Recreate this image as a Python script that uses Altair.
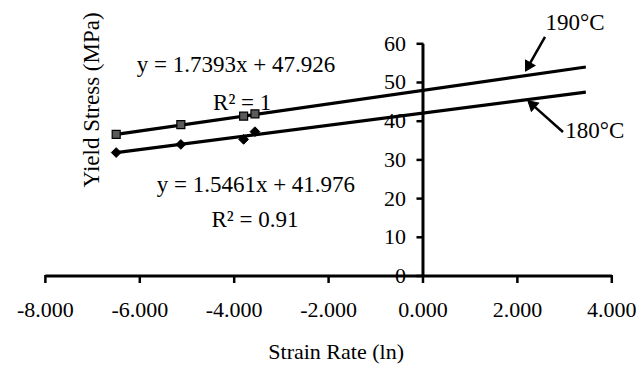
import math
import altair as alt
import pandas as pd

# ---------------- data ----------------
strain_rate = [-6.50, -5.13, -3.80, -3.56]
stress_190 = [36.6, 39.1, 41.3, 41.9]
stress_180 = [31.9, 34.0, 35.3, 37.3]

trend_x = [-6.50, 3.45]
trend_190 = [36.6, 54.0]
trend_180 = [31.9, 47.5]

x_ticks = [-8, -6, -4, -2, 0, 2, 4]
x_tick_labels = ["-8.000", "-6.000", "-4.000", "-2.000", "0.000", "2.000", "4.000"]
y_ticks = [0, 10, 20, 30, 40, 50, 60]
y_tick_labels = ["0", "10", "20", "30", "40", "50", "60"]

ann_text = ["y = 1.7393x + 47.926", "R² = 1", "y = 1.5461x + 41.976", "R² = 0.91",
            "190°C", "180°C"]
ann_x = [-3.96, -3.83, -3.54, -3.56, 3.22, 3.64]
ann_y = [52.6, 42.9, 21.7, 12.7, 63.6, 35.7]

arrow_tail_x = [2.585, 2.966]
arrow_tail_y = [61.8, 37.2]
arrow_tip_x = [2.16, 2.203]
arrow_tip_y = [52.7, 45.5]

x_title = "Strain Rate (ln)"
y_title = "Yield Stress (MPa)"

# ---------------- chart setup ----------------
W, H = 628, 356
X_DOMAIN = [-8.792, 4.513]
Y_DOMAIN = [-22.74, 69.25]
PX_X = W / (X_DOMAIN[1] - X_DOMAIN[0])
PX_Y = H / (Y_DOMAIN[1] - Y_DOMAIN[0])
FONT = "Liberation Serif"
FS = 23

xs = alt.Scale(domain=X_DOMAIN, nice=False, zero=False)
ys = alt.Scale(domain=Y_DOMAIN, nice=False, zero=False)


def X(f="x"):
    return alt.X(f"{f}:Q", scale=xs, axis=None)


def Y(f="y"):
    return alt.Y(f"{f}:Q", scale=ys, axis=None)


# axes
x_axis = alt.Chart(pd.DataFrame({"x": [x_ticks[0]], "x2": [x_ticks[-1]], "y": [0]})).mark_rule(
    color="black", strokeWidth=3).encode(x=X(), x2="x2:Q", y=Y())
y_axis = alt.Chart(pd.DataFrame({"x": [0], "y": [y_ticks[0]], "y2": [y_ticks[-1]]})).mark_rule(
    color="black", strokeWidth=3).encode(x=X(), y=Y(), y2="y2:Q")

xt_df = pd.DataFrame({"x": x_ticks, "y": [0] * len(x_ticks), "label": x_tick_labels})
yt_df = pd.DataFrame({"x": [0] * len(y_ticks), "y": y_ticks, "label": y_tick_labels})

x_tick_marks = alt.Chart(xt_df).mark_tick(
    orient="vertical", size=8, thickness=2.5, color="black", yOffset=3, opacity=1
).encode(x=X(), y=Y())
y_tick_marks = alt.Chart(yt_df).mark_tick(
    orient="horizontal", size=7, thickness=2.5, color="black", xOffset=-3, opacity=1
).encode(x=X(), y=Y())

x_tick_text = alt.Chart(xt_df).mark_text(
    font=FONT, fontSize=FS - 1, baseline="alphabetic", align="center", dy=41, color="black"
).encode(x=X(), y=Y(), text="label:N")
y_tick_text = alt.Chart(yt_df).mark_text(
    font=FONT, fontSize=FS - 1, baseline="middle", align="right", dx=-17, color="black"
).encode(x=X(), y=Y(), text="label:N")

# trend lines
trend_df = pd.DataFrame({
    "x": trend_x + trend_x,
    "y": trend_190 + trend_180,
    "series": ["190"] * 2 + ["180"] * 2,
})
trend = alt.Chart(trend_df).mark_line(color="black", strokeWidth=3.2).encode(
    x=X(), y=Y(), detail="series:N")

# data points
sq = alt.Chart(pd.DataFrame({"x": strain_rate, "y": stress_190})).mark_point(
    shape="square", filled=True, fill="#5a5a5a", stroke="black", strokeWidth=1.2,
    size=64, opacity=1).encode(x=X(), y=Y())
dm = alt.Chart(pd.DataFrame({"x": strain_rate, "y": stress_180})).mark_point(
    shape="diamond", filled=True, fill="black", stroke="black", strokeWidth=1,
    size=95, opacity=1).encode(x=X(), y=Y())

# annotations
ann = alt.Chart(pd.DataFrame({"x": ann_x, "y": ann_y, "t": ann_text})).mark_text(
    font=FONT, fontSize=FS, baseline="alphabetic", align="center", color="black"
).encode(x=X(), y=Y(), text="t:N")

# arrows
head_x, head_y, end_x, end_y, angles = [], [], [], [], []
for tx, ty, px, py in zip(arrow_tail_x, arrow_tail_y, arrow_tip_x, arrow_tip_y):
    dxp = (px - tx) * PX_X
    dyp = -(py - ty) * PX_Y
    L = math.hypot(dxp, dyp)
    back = 6.0 / L
    head_x.append(px - (px - tx) * back)
    head_y.append(py - (py - ty) * back)
    end_x.append(px - (px - tx) * back * 1.3)
    end_y.append(py - (py - ty) * back * 1.3)
    angles.append(math.degrees(math.atan2(dxp, -dyp)) % 360)

arrow_lines = alt.Chart(pd.DataFrame({
    "x": arrow_tail_x, "y": arrow_tail_y, "x2": end_x, "y2": end_y})).mark_rule(
    color="black", strokeWidth=2.5).encode(x=X(), y=Y(), x2="x2:Q", y2="y2:Q")
arrow_heads = alt.Chart(pd.DataFrame({"x": head_x, "y": head_y, "a": angles})).mark_point(
    shape="triangle-up", filled=True, fill="black", stroke="black", strokeWidth=1,
    size=120, opacity=1).encode(x=X(), y=Y(), angle=alt.Angle("a:Q", scale=None))

# axis titles
xtitle = alt.Chart(pd.DataFrame({"x": [-1.84], "y": [-21.5], "t": [x_title]})).mark_text(
    font=FONT, fontSize=FS - 1, baseline="alphabetic", align="center", color="black"
).encode(x=X(), y=Y(), text="t:N")
ytitle = alt.Chart(pd.DataFrame({"x": [-6.86], "y": [45.5], "t": [y_title]})).mark_text(
    font=FONT, fontSize=FS, baseline="alphabetic", align="center", angle=270, color="black"
).encode(x=X(), y=Y(), text="t:N")

chart = alt.layer(
    trend, x_axis, y_axis, x_tick_marks, y_tick_marks, x_tick_text, y_tick_text,
    sq, dm, ann, arrow_lines, arrow_heads, xtitle, ytitle
).properties(
    width=W, height=H, padding=0, autosize="none", background="white"
).configure_view(stroke=None)

chart.save("out.html", embed_options={"renderer": "svg", "actions": False})
